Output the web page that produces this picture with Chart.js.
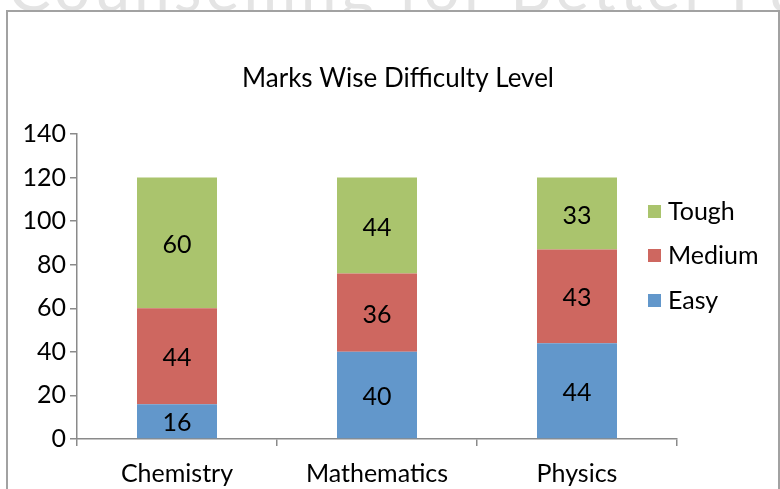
<!DOCTYPE html>
<html>
<head>
<meta charset="utf-8">
<script src="https://cdn.jsdelivr.net/npm/chart.js"></script>
<style>
  html, body { margin: 0; padding: 0; background: #fff; }
  #wrap { position: relative; width: 780px; height: 489px; overflow: hidden; }
  #mark { position: absolute; left: 8px; top: -52px; font: 64px Lato, sans-serif; color: #e4e4e4; white-space: nowrap; letter-spacing: 4px; }
  #frame { position: absolute; left: 6px; top: 10px; width: 770px; height: 500px; border: 2px solid #a2a2a2; background: #fff; }
  canvas { position: absolute; left: 0; top: 0; }
</style>
</head>
<body>
<div id="wrap">
  <div id="mark">Counselling for Better Future</div>
  <div id="frame"></div>
  <canvas id="myChart" width="780" height="489"></canvas>
</div>
<script>
const categories = ['Chemistry', 'Mathematics', 'Physics'];
const easy = [16, 40, 44];
const medium = [44, 36, 43];
const tough = [60, 44, 33];
const chartTitle = 'Marks Wise Difficulty Level';

const FONT = 'Lato, "Liberation Sans", sans-serif';

// draws title, legend and the value labels inside the bars
const extras = {
  id: 'extras',
  afterDatasetsDraw(chart) {
    const ctx = chart.ctx;
    ctx.save();
    ctx.fillStyle = '#000';
    ctx.textAlign = 'center';
    ctx.textBaseline = 'middle';
    ctx.font = '25px ' + FONT;
    chart.data.datasets.forEach((ds, i) => {
      chart.getDatasetMeta(i).data.forEach((bar, j) => {
        const mid = (bar.y + bar.base) / 2;
        ctx.fillText(String(ds.data[j]), bar.x, mid + 2);
      });
    });

    ctx.font = '26px ' + FONT;
    ctx.fillText(chartTitle, 398, 79);

    // legend, reverse order like the original
    ctx.textAlign = 'left';
    ctx.font = '25px ' + FONT;
    const ys = [211, 255, 300];
    const order = chart.data.datasets.slice().reverse();
    order.forEach((ds, k) => {
      ctx.fillStyle = ds.backgroundColor;
      ctx.fillRect(648, ys[k] - 6, 13, 13);
      ctx.fillStyle = '#000';
      ctx.fillText(ds.label, 668, ys[k] + 1);
    });
    ctx.restore();
  }
};

const ctx = document.getElementById('myChart').getContext('2d');
new Chart(ctx, {
  type: 'bar',
  data: {
    labels: categories,
    datasets: [
      { label: 'Easy', data: easy, backgroundColor: '#6297cb' },
      { label: 'Medium', data: medium, backgroundColor: '#ce6760' },
      { label: 'Tough', data: tough, backgroundColor: '#aac46d' }
    ]
  },
  options: {
    responsive: false,
    animation: false,
    layout: { padding: { left: 0, right: 103, top: 134, bottom: 0 } },
    datasets: { bar: { barPercentage: 0.4, categoryPercentage: 1 } },
    plugins: { legend: { display: false }, tooltip: { enabled: false } },
    scales: {
      x: {
        stacked: true,
        offset: true,
        afterFit: (s) => { s.height = 50; },
        border: { color: '#8a8a8a', width: 1.5 },
        grid: { offset: true, drawOnChartArea: false, drawTicks: true, tickLength: 7, color: '#8a8a8a', lineWidth: 1.5 },
        ticks: { color: '#000', font: { family: FONT, size: 25 }, padding: 13 }
      },
      y: {
        stacked: true,
        min: 0,
        max: 140,
        afterFit: (s) => { s.width = 77; },
        border: { color: '#8a8a8a', width: 1.5 },
        grid: { drawOnChartArea: false, drawTicks: true, tickLength: 7, color: '#8a8a8a', lineWidth: 1.5 },
        ticks: { stepSize: 20, color: '#000', font: { family: FONT, size: 25 }, padding: 4 }
      }
    }
  },
  plugins: [extras]
});
</script>
</body>
</html>
